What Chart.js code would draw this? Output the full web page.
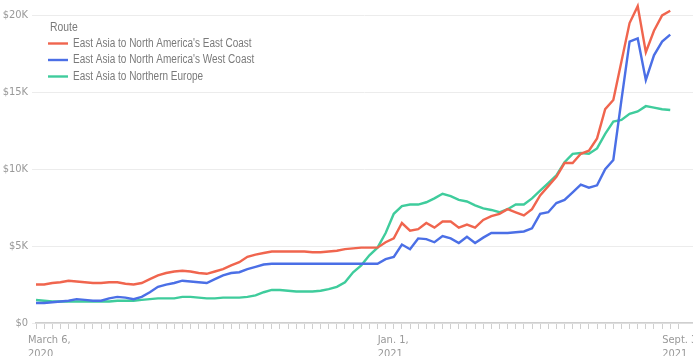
<!DOCTYPE html>
<html>
<head>
<meta charset="utf-8">
<script src="https://cdn.jsdelivr.net/npm/chart.js@4/dist/chart.umd.min.js"></script>
<style>
  html, body { margin: 0; padding: 0; background: #ffffff; }
  #wrap { width: 693px; height: 356px; position: relative; }
</style>
</head>
<body>
<div id="wrap"><canvas id="c" width="693" height="356"></canvas></div>
<script>
// Weekly observations, March 6, 2020 (index 0) to Sept. 3, 2021 (index 78). Values in $ thousands.
const legendTitle = "Route";
const seriesNames = [
  "East Asia to North America's East Coast",
  "East Asia to North America's West Coast",
  "East Asia to Northern Europe"
];
const eastCoast = [
  2.5, 2.5, 2.6, 2.65, 2.75, 2.7, 2.65, 2.6, 2.6, 2.65,
  2.65, 2.55, 2.5, 2.6, 2.85, 3.1, 3.25, 3.35, 3.4, 3.35,
  3.25, 3.2, 3.35, 3.5, 3.75, 3.95, 4.3, 4.45, 4.55, 4.65,
  4.65, 4.65, 4.65, 4.65, 4.6, 4.6, 4.65, 4.7, 4.8, 4.85,
  4.9, 4.9, 4.9, 5.25, 5.5, 6.5, 6.0, 6.1, 6.5, 6.2,
  6.6, 6.6, 6.2, 6.4, 6.2, 6.7, 6.95, 7.1, 7.4, 7.2,
  7.0, 7.4, 8.3, 8.9, 9.5, 10.4, 10.4, 11.0, 11.2, 12.0,
  13.9, 14.5, 17.0, 19.5, 20.6, 17.6, 19.0, 20.0, 20.3
];
const westCoast = [
  1.3, 1.3, 1.35, 1.4, 1.45, 1.55, 1.5, 1.45, 1.45, 1.6,
  1.7, 1.65, 1.55, 1.7, 2.0, 2.35, 2.5, 2.6, 2.75, 2.7,
  2.65, 2.6, 2.85, 3.1, 3.25, 3.3, 3.5, 3.65, 3.8, 3.85,
  3.85, 3.85, 3.85, 3.85, 3.85, 3.85, 3.85, 3.85, 3.85, 3.85,
  3.85, 3.85, 3.85, 4.15, 4.3, 5.1, 4.8, 5.5, 5.45, 5.25,
  5.65, 5.5, 5.2, 5.6, 5.2, 5.55, 5.85, 5.85, 5.85, 5.9,
  5.95, 6.15, 7.1, 7.2, 7.8, 8.0, 8.5, 9.0, 8.8, 8.95,
  10.0, 10.6, 14.5, 18.3, 18.5, 15.8, 17.4, 18.3, 18.75
];
const northernEurope = [
  1.5, 1.45, 1.4, 1.4, 1.4, 1.4, 1.4, 1.4, 1.4, 1.4,
  1.45, 1.45, 1.45, 1.5, 1.55, 1.6, 1.6, 1.6, 1.7, 1.7,
  1.65, 1.6, 1.6, 1.65, 1.65, 1.65, 1.7, 1.8, 2.0, 2.15,
  2.15, 2.1, 2.05, 2.05, 2.05, 2.1, 2.2, 2.35, 2.65, 3.3,
  3.75, 4.4, 4.9, 5.85, 7.1, 7.6, 7.7, 7.7, 7.85, 8.1,
  8.4, 8.25, 8.0, 7.9, 7.65, 7.45, 7.35, 7.2, 7.4, 7.7,
  7.7, 8.1, 8.6, 9.1, 9.6, 10.45, 11.0, 11.05, 11.0, 11.35,
  12.3, 13.1, 13.2, 13.6, 13.75, 14.1, 14.0, 13.9, 13.85
];
// x-axis labels at week indices
const xTickWeeks = [0, 43, 78];
const xTickLabels = [["March 6,", "2020"], ["Jan. 1,", "2021"], ["Sept. 3,", "2021"]];
const yTickValues = [0, 5, 10, 15, 20];
const yTickLabels = ["$0", "$5K", "$10K", "$15K", "$20K"];

const colors = ["#f0654e", "#4b6fe6", "#3fcc9c"];
const FONT = "'Liberation Sans Narrow', 'DejaVu Sans Condensed', 'Roboto', sans-serif";

const toPoints = arr => arr.map((v, i) => ({ x: i, y: v }));
const allSeries = [eastCoast, westCoast, northernEurope];

// Legend drawn inside the plot area, top-left, with condensed text
const insideLegend = {
  id: 'insideLegend',
  afterDraw(chart) {
    const ctx = chart.ctx;
    const area = chart.chartArea;
    const x0 = area.left + 12;
    const squeeze = 0.8;
    ctx.save();
    ctx.textBaseline = 'middle';
    ctx.textAlign = 'left';
    ctx.fillStyle = '#7a7a7a';
    ctx.font = "13px 'Liberation Sans', 'Roboto', sans-serif";
    ctx.save();
    ctx.translate(x0 + 2, 27);
    ctx.scale(squeeze, 1);
    ctx.fillText(legendTitle, 0, 0);
    ctx.restore();
    chart.data.datasets.forEach((ds, k) => {
      const y = 43.5 + k * 16.5;
      ctx.strokeStyle = ds.borderColor;
      ctx.lineWidth = 2.4;
      ctx.beginPath();
      ctx.moveTo(x0, y);
      ctx.lineTo(x0 + 20, y);
      ctx.stroke();
      ctx.fillStyle = '#7a7a7a';
      ctx.font = "12.5px 'Liberation Sans', 'Roboto', sans-serif";
      ctx.save();
      ctx.translate(x0 + 25, y);
      ctx.scale(squeeze, 1);
      ctx.fillText(ds.label, 0, 0);
      ctx.restore();
    });
    ctx.restore();
  }
};

new Chart(document.getElementById('c'), {
  type: 'line',
  data: {
    datasets: allSeries.map((s, k) => ({
      label: seriesNames[k],
      data: toPoints(s),
      borderColor: colors[k],
      backgroundColor: colors[k],
      borderWidth: 2.4,
      pointRadius: 0,
      tension: 0,
      fill: false
    }))
  },
  plugins: [insideLegend],
  options: {
    responsive: false,
    animation: false,
    devicePixelRatio: 1,
    layout: { padding: { left: 0, right: 0, top: 0, bottom: 0 } },
    plugins: {
      tooltip: { enabled: false },
      legend: { display: false }
    },
    scales: {
      x: {
        type: 'linear',
        min: 0,
        max: 80.8,
        grid: { display: true, drawOnChartArea: false, drawTicks: true, tickLength: 6, color: '#cfcfcf' },
        border: { display: true, color: '#cfcfcf', width: 1.5 },
        ticks: {
          stepSize: 1,
          autoSkip: false,
          maxRotation: 0,
          minRotation: 0,
          color: '#999',
          font: { family: FONT, size: 11 },
          padding: 5,
          align: 'start',
          labelOffset: -8,
          callback: function (v) {
            const k = xTickWeeks.indexOf(v);
            return k >= 0 ? xTickLabels[k] : '';
          }
        },
        afterFit: s => { s.height = 33; s.paddingLeft = 0; s.paddingRight = 0; }
      },
      y: {
        min: 0,
        max: 21,
        grid: { color: '#ececec', drawTicks: true, tickLength: 4, lineWidth: 1 },
        border: { display: false },
        ticks: {
          stepSize: 5,
          color: '#999',
          font: { family: FONT, size: 11 },
          padding: 4,
          callback: function (v) {
            const k = yTickValues.indexOf(v);
            return k >= 0 ? yTickLabels[k] : '';
          }
        },
        afterBuildTicks: s => { s.ticks = s.ticks.filter(t => yTickValues.includes(t.value)); },
        afterFit: s => { s.width = 36; s.paddingTop = 0; s.paddingBottom = 0; }
      }
    }
  }
});
</script>
</body>
</html>
